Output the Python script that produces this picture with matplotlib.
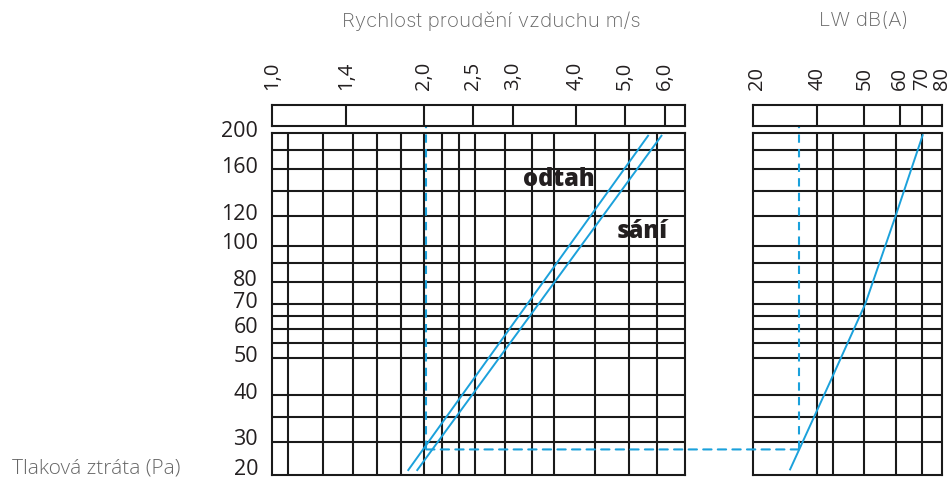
import numpy as np
import matplotlib
matplotlib.use("Agg")
import matplotlib.pyplot as plt
from matplotlib.patches import ConnectionPatch
from matplotlib.transforms import ScaledTranslation

# ---------------- data ----------------
# left panel: air velocity (m/s), log axis
v_tick_values = [1.0, 1.4, 2.0, 2.5, 3.0, 4.0, 5.0, 6.0]
v_tick_labels = ["1,0", "1,4", "2,0", "2,5", "3,0", "4,0", "5,0", "6,0"]
v_grid = [1.076, 1.262, 1.446, 1.614, 1.80, 2.0, 2.17, 2.345, 2.52, 2.89,
          3.27, 3.62, 4.36, 5.09, 5.78]
v_min, v_max = 1.0, 6.58

# pressure drop (Pa), log axis
p_tick_values = [200, 160, 120, 100, 80, 70, 60, 50, 40, 30]
p_tick_labels = ["200", "160", "120", "100", "80", "70", "60", "50", "40", "30"]
p_bottom_label = "20"
p_grid = [180, 160, 140, 120, 100, 90, 80, 70, 65, 60, 55, 50, 40, 35, 30]
p_min, p_max = 24.4, 200

# curves (left panel)
odtah_v = [1.862, 5.56]
odtah_p = [25.2, 196.3]
sani_v = [1.94, 5.91]
sani_p = [25.2, 196.3]

# right panel: sound power LW dB(A)
lw_tick_values = [20, 40, 50, 60, 70, 80]
lw_tick_labels = ["20", "40", "50", "60", "70", "80"]
lw_grid = [40, 43.3, 50, 58.7, 70]
lw_curve = [31.5, 42.9, 50.3, 58.7, 70.2]
lw_curve_p = [25.3, 43.8, 70, 120, 197]

# example reading (dashed)
ex_v, ex_p, ex_lw = 2.02, 28.6, 34.4
ex_p_top = 208

# ---------------- style ----------------
BLUE = "#1ba1db"
GRID = "#1a1a1a"
TXT = "#231f20"
GRAY = "#666666"
LW_GRID = 1.5

# non-uniform nomogram scale for the LW axis (relative positions of the printed ticks)
lw_scale_pos = [0.0, 64.0, 111.0, 147.0, 169.0, 188.4]

def lw_fwd(x):
    return np.interp(x, lw_tick_values, lw_scale_pos)

def lw_inv(x):
    return np.interp(x, lw_scale_pos, lw_tick_values)

fig = plt.figure(figsize=(9.52, 4.82), dpi=100)
W, H = 952.0, 482.0

def rect(x0, y0, x1, y1):
    return [x0 / W, 1 - y1 / H, (x1 - x0) / W, (y1 - y0) / H]

ax = fig.add_axes(rect(272, 132.7, 685, 475.3))
axt = fig.add_axes(rect(272, 105, 685, 125.5))
ax2 = fig.add_axes(rect(753.3, 132.7, 941.7, 475.3))
ax2t = fig.add_axes(rect(753.3, 105, 941.7, 125.5))

tickfont = "Open Sans"

for a in (ax, axt, ax2, ax2t):
    for s in a.spines.values():
        s.set_linewidth(LW_GRID)
        s.set_color(GRID)

# ---- left main
ax.set_xscale("log")
ax.set_yscale("log")
ax.set_xlim(v_min, v_max)
ax.set_ylim(p_min, p_max)
ax.vlines(v_grid, 0, 1, transform=ax.get_xaxis_transform(), color=GRID, lw=LW_GRID)
ax.hlines(p_grid, 0, 1, transform=ax.get_yaxis_transform(), color=GRID, lw=LW_GRID)
ax.set_xticks([])
ax.set_xticks([], minor=True)
ax.set_yticks(p_tick_values + [p_min])
ax.set_yticklabels(p_tick_labels + [p_bottom_label])
ax.set_yticks([], minor=True)
ax.tick_params(axis="y", length=0, pad=10, labelsize=15.5, labelcolor=TXT)
ylabs = ax.get_yticklabels()
for i, lab in enumerate(ylabs):
    lab.set_fontfamily(tickfont)
    dy = 6.0 if i == len(ylabs) - 1 else 3.0
    lab.set_transform(lab.get_transform() + ScaledTranslation(0, dy / 72, fig.dpi_scale_trans))

ax.plot(odtah_v, odtah_p, color=BLUE, lw=1.4)
ax.plot(sani_v, sani_p, color=BLUE, lw=1.4)
ax.text(3.70, 150.5, "odtah", fontsize=17, fontweight="heavy", family=tickfont,
        color=TXT, ha="center", va="center")
ax.text(5.40, 109.3, "sání", fontsize=17, fontweight="heavy", family=tickfont,
        color=TXT, ha="center", va="center")

# ---- left top box
axt.set_xscale("log")
axt.set_xlim(v_min, v_max)
axt.set_ylim(0, 1)
axt.vlines(v_tick_values[1:], 0, 1, color=GRID, lw=LW_GRID)
axt.set_yticks([])
axt.xaxis.tick_top()
axt.set_xticks(v_tick_values)
axt.set_xticklabels(v_tick_labels)
axt.set_xticks([], minor=True)
axt.tick_params(axis="x", length=0, pad=11, labelsize=14.5, labelrotation=90, labelcolor=TXT)
for lab in axt.get_xticklabels():
    lab.set_fontfamily(tickfont)

# ---- right main
ax2.set_xscale("function", functions=(lw_fwd, lw_inv))
ax2.set_yscale("log")
ax2.set_xlim(lw_tick_values[0], lw_tick_values[-1])
ax2.set_ylim(p_min, p_max)
ax2.vlines(lw_grid, 0, 1, transform=ax2.get_xaxis_transform(), color=GRID, lw=LW_GRID)
ax2.hlines(p_grid, 0, 1, transform=ax2.get_yaxis_transform(), color=GRID, lw=LW_GRID)
ax2.set_xticks([])
ax2.set_xticks([], minor=True)
ax2.set_yticks([])
ax2.set_yticks([], minor=True)
ax2.plot(lw_curve, lw_curve_p, color=BLUE, lw=1.4)

# ---- right top box
ax2t.set_xscale("function", functions=(lw_fwd, lw_inv))
ax2t.set_xlim(lw_tick_values[0], lw_tick_values[-1])
ax2t.set_ylim(0, 1)
ax2t.vlines(lw_tick_values[1:-1], 0, 1, color=GRID, lw=LW_GRID)
ax2t.set_yticks([])
ax2t.xaxis.tick_top()
ax2t.set_xticks(lw_tick_values)
ax2t.set_xticklabels(lw_tick_labels)
ax2t.set_xticks([], minor=True)
ax2t.tick_params(axis="x", length=0, pad=11, labelsize=14.5, labelrotation=90, labelcolor=TXT)
for lab in ax2t.get_xticklabels():
    lab.set_fontfamily(tickfont)
# first label sits slightly inside the box edge
ax2t.get_xticklabels()[0].set_transform(
    ax2t.get_xticklabels()[0].get_transform() + ScaledTranslation(3 / 72, 0, fig.dpi_scale_trans))

# ---- example reading (dashed)
dash = (0, (4, 3))
ax.plot([ex_v, ex_v], [ex_p, ex_p_top], color=BLUE, lw=1.5, ls=dash, clip_on=False, zorder=5)
ax2.plot([ex_lw, ex_lw], [ex_p, ex_p_top], color=BLUE, lw=1.5, ls=dash, clip_on=False, zorder=5)
con = ConnectionPatch(xyA=(ex_v, ex_p), coordsA=ax.transData,
                      xyB=(ex_lw, ex_p), coordsB=ax2.transData,
                      color=BLUE, lw=1.5, linestyle=dash, zorder=5)
fig.add_artist(con)

# ---- titles
fig.text(491.5 / W, 1 - 21 / H, "Rychlost proudění vzduchu m/s", ha="center", va="center",
         fontsize=14.8, color=GRAY, family="Inter", fontweight="light")
fig.text(863.5 / W, 1 - 21 / H, "LW dB(A)", ha="center", va="center",
         fontsize=14.8, color=GRAY, family="Inter", fontweight="light")
fig.text(12 / W, 1 - 469 / H, "Tlaková ztráta (Pa)", ha="left", va="center",
         fontsize=15, color=GRAY, family="Open Sans", fontweight="light")

fig.savefig("out.png", dpi=100)
